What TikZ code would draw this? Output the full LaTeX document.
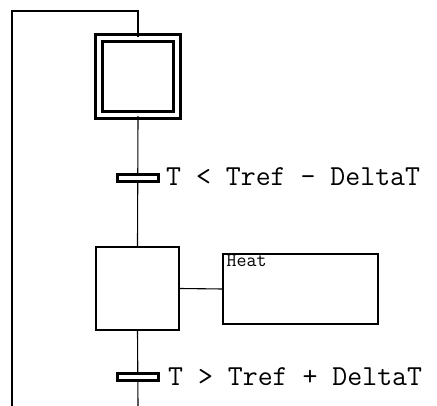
\documentclass[tikz,border=0pt]{standalone}
\begin{document}
\begin{tikzpicture}[x=1pt,y=-1pt,
  link/.style={line width=1.1pt, black},
  initstep/.style={draw, double, line width=2.4pt, double distance=4.4pt, minimum width=78pt, minimum height=77pt, inner sep=0pt},
  stepbox/.style={draw, line width=2.2pt, minimum width=83pt, minimum height=83pt, inner sep=0pt},
  trbar/.style={draw, fill=white, line width=2.4pt, minimum width=41pt, minimum height=7pt, inner sep=0pt},
  actbox/.style={draw, line width=1.1pt, minimum width=155pt, minimum height=70pt, inner sep=0pt},
  cond/.style={anchor=base west, inner sep=0pt, font=\ttfamily\fontsize{29}{29}\selectfont},
  acttext/.style={anchor=base west, inner sep=0pt, font=\ttfamily\fontsize{20}{20}\selectfont}]
\useasboundingbox (0,0) rectangle (437,406);
\node[initstep] (init) at (138,76.5) {};
\node[stepbox] (s2) at (137.5,288.5) {};
\node[actbox] (act) at (300.5,289) {};
\node[acttext] (heat) at ([xshift=4pt,yshift=-13pt]act.north west) {\resizebox{40pt}{!}{Heat}};
\coordinate (top) at (138,11);
\coordinate (topleft) at (12,11);
\coordinate (botleft) at (12,406);
\coordinate (bot) at (138,406);
\coordinate (t1c) at (138,178);
\coordinate (t2c) at (138,377);
\draw[link] (init.north) -- (top) -- (topleft) -- (botleft);
\draw[link] (init.south) -- (s2.north);
\draw[link] (s2.south) -- (bot);
\draw[link] (s2.east) -- (act.west);
\node[trbar] (t1) at (t1c) {};
\node[trbar] (t2) at (t2c) {};
\node[cond] (c1) at (166,185.5) {T < Tref - DeltaT};
\node[cond] (c2) at (168,385.5) {T > Tref + DeltaT};
\end{tikzpicture}
\end{document}
